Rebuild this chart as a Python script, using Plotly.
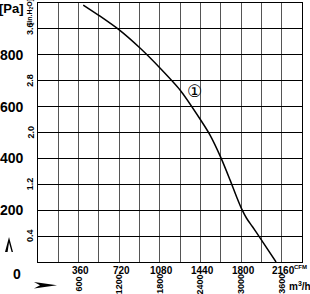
import plotly.graph_objects as go

# ---- data ----
cfm = [401, 550, 720, 904, 1081, 1259, 1436, 1525, 1622, 1702, 1760, 1805, 1850, 1900, 1968, 2110]
pa = [992, 949, 896, 826, 749, 664, 552, 490, 402, 317, 252, 205, 168, 137, 93, 0]

cfm_ticks = [360, 720, 1080, 1440, 1800, 2160]
m3h_labels = ["600", "1200", "1800", "2400", "3000", "3600"]
pa_ticks = [200, 400, 600, 800]
inh2o_ticks = [0.4, 1.2, 2.0, 2.8, 3.6]
curve_label = "①"
curve_label_pos = (1385, 660)

W, H = 310, 294
ML, MR, MT, MB = 38, 8, 3, 32
PW, PH = W - ML - MR, H - MT - MB
FONT = "Liberation Sans, Arial, sans-serif"


def px(xp):
    return (xp - ML) / PW


def py(yp):
    return (H - MB - yp) / PH


fig = go.Figure()
fig.add_trace(go.Scatter(x=cfm, y=pa, mode="lines",
                         line=dict(color="black", width=1.5, shape="spline", smoothing=0.7),
                         hoverinfo="skip", showlegend=False))

ann = []
for v in cfm_ticks:
    ann.append(dict(x=v, y=py(270), xref="x", yref="paper", text=f"<b>{v}</b>",
                    showarrow=False, xshift=2, font=dict(family=FONT, size=10, color="black"),
                    xanchor="center", yanchor="middle"))
for v, t in zip(cfm_ticks, m3h_labels):
    ann.append(dict(x=v, y=py(284), xref="x", yref="paper", text=f"<b>{t}</b>",
                    showarrow=False, textangle=-90, font=dict(family=FONT, size=9, color="black"),
                    xanchor="center", yanchor="middle"))
ann.append(dict(x=px(309), y=py(267), xref="paper", yref="paper", text="<b>CFM</b>",
                showarrow=False, font=dict(family=FONT, size=6, color="black"),
                xanchor="right", yanchor="middle"))
ann.append(dict(x=px(299.5), y=py(286), xref="paper", yref="paper", text="<b>m<sup>3</sup>/h</b>",
                showarrow=False, font=dict(family=FONT, size=10, color="black"),
                xanchor="center", yanchor="middle"))
for v in pa_ticks:
    ann.append(dict(x=px(12), y=v, xref="paper", yref="y", text=f"<b>{v}</b>",
                    showarrow=False, font=dict(family=FONT, size=14, color="black"),
                    xanchor="center", yanchor="middle"))
ann.append(dict(x=px(17), y=py(274), xref="paper", yref="paper", text="<b>0</b>",
                showarrow=False, font=dict(family=FONT, size=14, color="black"),
                xanchor="center", yanchor="middle"))
ann.append(dict(x=px(11), y=py(9), xref="paper", yref="paper", text="<b>[Pa]</b>",
                showarrow=False, font=dict(family=FONT, size=13, color="black"),
                xanchor="center", yanchor="middle"))
for v in inh2o_ticks:
    ann.append(dict(x=px(30), y=v / 0.4 * 100, xref="paper", yref="y", text=f"<b>{v:.1f}</b>",
                    showarrow=False, textangle=-90, font=dict(family=FONT, size=9, color="black"),
                    xanchor="center", yanchor="middle"))
ann.append(dict(x=px(30), y=py(12), xref="paper", yref="paper", text="<b>[in.H<sub>2</sub>O]</b>",
                showarrow=False, textangle=-90, font=dict(family=FONT, size=7, color="black"),
                xanchor="center", yanchor="middle"))
ann.append(dict(x=curve_label_pos[0], y=curve_label_pos[1], xref="x", yref="y", text=curve_label,
                showarrow=False, font=dict(family="DejaVu Serif, DejaVu Sans", size=17, color="black"),
                xanchor="center", yanchor="middle"))


def path(points):
    return "M " + " L ".join(f"{px(a):.4f},{py(b):.4f}" for a, b in points) + " Z"


shapes = [
    dict(type="path", xref="paper", yref="paper",
         path=path([(5, 252), (9, 237), (13, 252), (11.6, 252), (9, 242.5), (7.6, 252)]),
         fillcolor="black", line=dict(width=0)),
    dict(type="path", xref="paper", yref="paper",
         path=path([(34, 282), (57, 285.3), (34, 288.6), (40, 285.3)]),
         fillcolor="black", line=dict(width=0)),
]

fig.update_layout(
    width=W, height=H, margin=dict(l=ML, r=MR, t=MT, b=MB),
    paper_bgcolor="white", plot_bgcolor="white",
    xaxis=dict(range=[0, 2340], dtick=180, tick0=0, showticklabels=False, ticks="",
               showgrid=True, gridcolor="#555", gridwidth=1, zeroline=False,
               showline=True, linecolor="black", linewidth=1, mirror=True, fixedrange=True),
    yaxis=dict(range=[0, 1000], dtick=100, tick0=0, showticklabels=False, ticks="",
               showgrid=True, gridcolor="black", gridwidth=1, zeroline=False,
               showline=True, linecolor="black", linewidth=1, mirror=True, fixedrange=True),
    annotations=ann, shapes=shapes, showlegend=False,
)
fig.write_html("out.html")
